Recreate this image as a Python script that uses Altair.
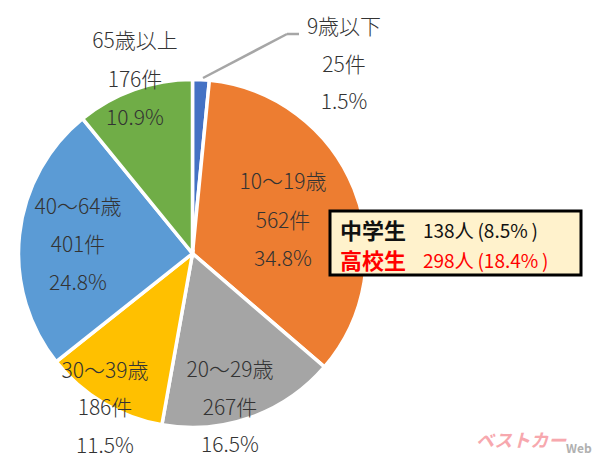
import altair as alt
import pandas as pd

categories = ["9歳以下", "10〜19歳", "20〜29歳", "30〜39歳", "40〜64歳", "65歳以上"]
counts = [25, 562, 267, 186, 401, 176]
count_labels = ["25件", "562件", "267件", "186件", "401件", "176件"]
pct_labels = ["1.5%", "34.8%", "16.5%", "11.5%", "24.8%", "10.9%"]
colors = ["#4472c4", "#ed7d31", "#a5a5a5", "#ffc000", "#5b9bd5", "#70ad47"]

FONT = "Noto Sans CJK JP"
OX, OY = 8, 8
TXT = "#333333"

df = pd.DataFrame({"cat": categories, "n": counts, "i": range(len(counts))})

pie = alt.Chart(df).mark_arc(outerRadius=174, stroke="white", strokeWidth=3.5).encode(
    theta=alt.Theta("n:Q", stack=True),
    order=alt.Order("i:Q"),
    color=alt.Color("cat:N", sort=categories, scale=alt.Scale(domain=categories, range=colors), legend=None),
    x=alt.value(192.5 - OX),
    y=alt.value(253.5 - OY),
)

base = alt.Chart(pd.DataFrame({"a": [0]}))

def label(s, x, y, size=21, color=TXT, align="center", weight=300, style="normal", font=FONT):
    return base.mark_text(text=s, font=font, fontSize=size, color=color, align=align,
                          baseline="middle", fontWeight=weight, fontStyle=style).encode(
        x=alt.value(x - OX), y=alt.value(y - OY))

def seg(x1, y1, x2, y2):
    return base.mark_rule(color="#a6a6a6", strokeWidth=2.5).encode(
        x=alt.value(x1 - OX), y=alt.value(y1 - OY), x2=alt.value(x2 - OX), y2=alt.value(y2 - OY))

layers = [pie, seg(203, 78, 287, 34), seg(287, 34, 299, 34)]

anchors = [(344, 28, 37.5), (283, 183, 38.5), (230, 371, 37.5), (105, 371.5, 37.5), (78, 208, 38), (135, 42, 38.5)]
for c, cl, pl, (x, y, d) in zip(categories, count_labels, pct_labels, anchors):
    layers += [label(c, x, y), label(cl, x, y + d), label(pl, x, y + 2 * d)]

box = base.mark_rect(fill="#fff2cc", stroke="black", strokeWidth=3).encode(
    x=alt.value(330 - OX), x2=alt.value(581 - OX), y=alt.value(211 - OY), y2=alt.value(275 - OY))
layers += [
    box,
    label("中学生", 340, 232, size=22, color="#111111", align="left", weight="bold"),
    label("138人\u2009(8.5%\u2009)", 423, 232, size=19, color="#111111", align="left", weight=400),
    label("高校生", 340, 262, size=22, color="#ff0000", align="left", weight="bold"),
    label("298人\u2009(18.4%\u2009)", 423, 262, size=19, color="#ff0000", align="left", weight=400),
    label("ベストカー", 476, 442, size=18, color="#f7a8ae", align="left", weight="bold", style="italic"),
    label("Web", 566, 449, size=12, color="#b0b0b0", align="left", weight="bold"),
]

chart = alt.layer(*layers).properties(
    width=584, height=450, padding=0, autosize=alt.AutoSizeParams(type="none")
).configure_view(stroke=None)

chart.save("out.html", embed_options={"renderer": "svg", "actions": False})
